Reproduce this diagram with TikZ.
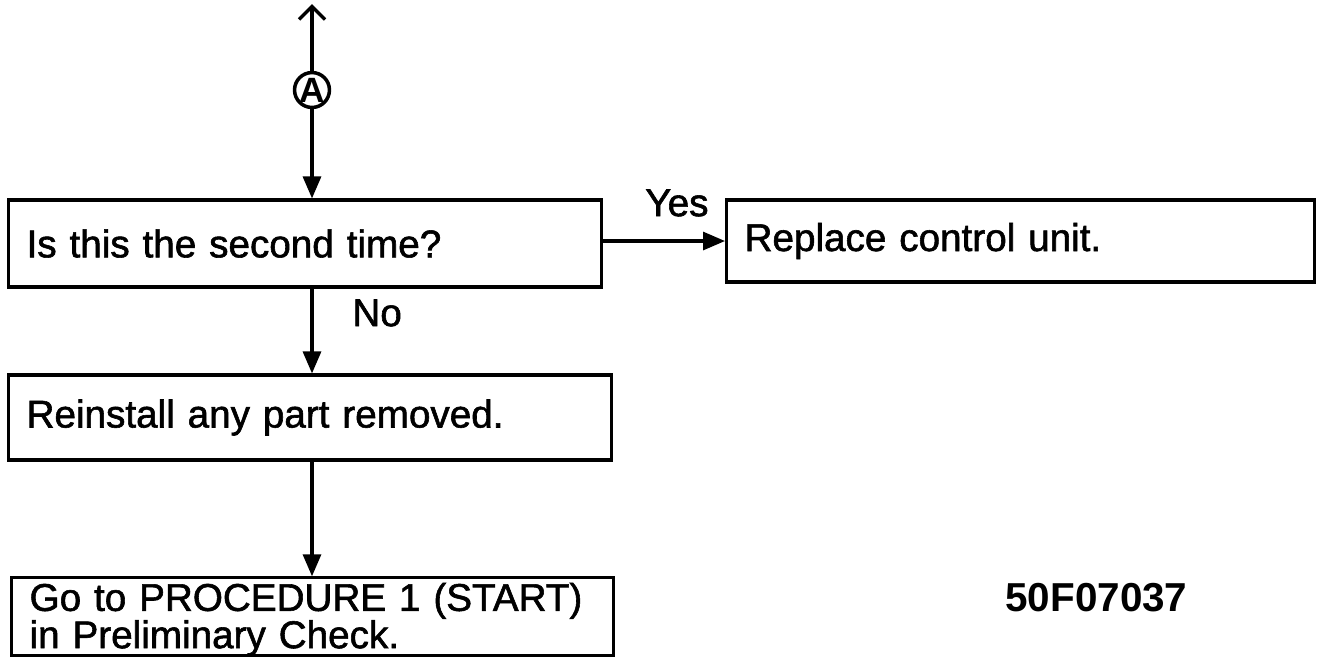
\documentclass[tikz,border=0pt]{standalone}
\usepackage{fontspec}
\setmainfont{Liberation Sans}
\newfontfamily\scanfont{Liberation Sans}[FakeBold=1.5]
\usetikzlibrary{positioning,arrows.meta}
\tikzstyle{every node}=[anchor=west]
\tikzstyle{stepbox}=[draw,line width=0.9pt,inner xsep=0.18cm,inner ysep=0.04cm,align=left,font=\scanfont\fontsize{11}{10.6}\selectfont]
\tikzstyle{flow}=[line width=0.9pt,-{Triangle[length=0.22cm,width=0.18cm]}]
\tikzstyle{back}=[line width=0.9pt,-{Straight Barb[length=0.13cm,width=0.26cm,line width=1pt]}]

\begin{document}
\begin{tikzpicture}
  \useasboundingbox (0,0) rectangle (13.33,-6.57);
  \node [circle,draw,line width=1pt,inner sep=0pt,minimum size=0.32cm,anchor=center,font=\bfseries\fontsize{10}{10}\selectfont] (conn) at (3.12,-0.90) {A};
  \coordinate (up) at (3.12,-0.04);
  \node [stepbox,text width=5.57cm,minimum height=0.87cm] (second) at (0.07,-2.435) {Is this the second time?};
  \node [stepbox,text width=5.52cm,minimum height=0.82cm] (replace) at (7.25,-2.41) {Replace control unit.};
  \node [stepbox,text width=5.67cm,minimum height=0.85cm] (reinstall) at (0.07,-4.175) {Reinstall any part removed.};
  \node [stepbox,text width=5.66cm,minimum height=0.77cm] (goto) at (0.10,-6.165) {\rule{0pt}{0.29cm}Go to PROCEDURE 1 (START)\\\raisebox{0pt}[\height][0.03cm]{in Preliminary Check.}};
  \node [font=\scanfont\fontsize{11}{13}\selectfont] (yes) at (6.33,-2.03) {Yes};
  \node [font=\scanfont\fontsize{11}{13}\selectfont] (no) at (3.40,-3.13) {No};
  \node [font=\bfseries\fontsize{11.5}{13}\selectfont] (code) at (9.93,-5.98) {50F07037};
  % connectors
  \draw [back] (conn.north) -- (up);
  \draw [flow] (conn.south) -- (conn.south |- second.north);
  \draw [flow] (second.east |- replace.west) -- (replace.west);
  \draw [flow] (conn.south |- second.south) -- (conn.south |- reinstall.north);
  \draw [flow] (conn.south |- reinstall.south) -- (conn.south |- goto.north);
\end{tikzpicture}
\end{document}
